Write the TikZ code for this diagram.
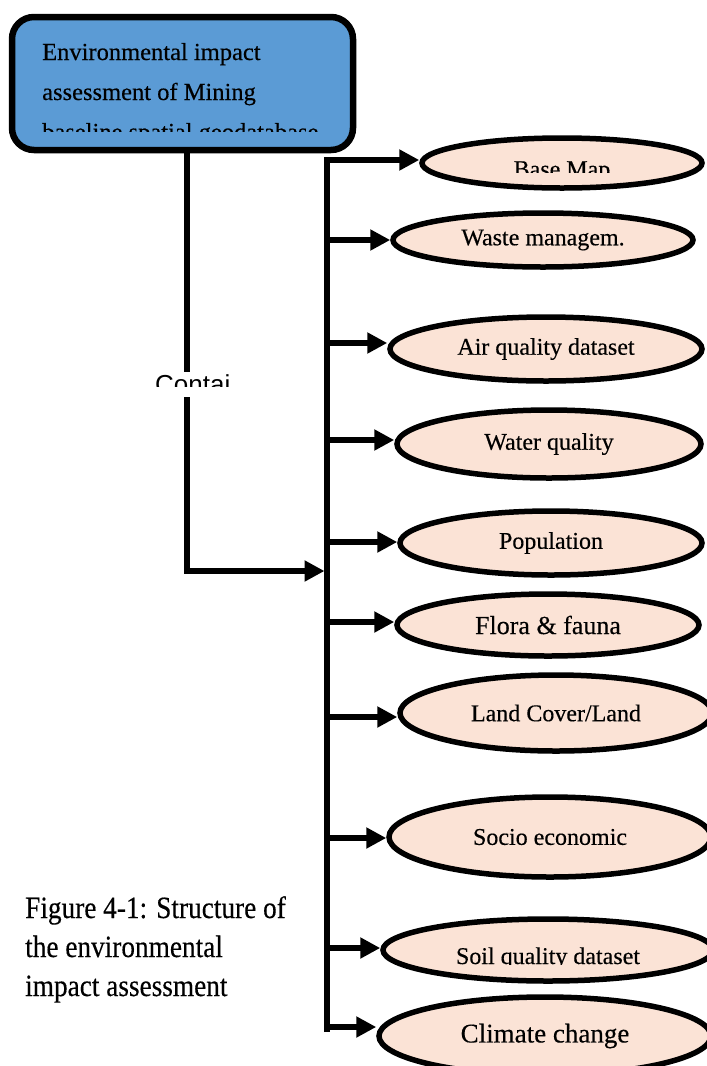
\documentclass[tikz,border=0pt]{standalone}
\usepackage{fontspec}
\setmainfont{Liberation Serif}[FakeBold=0.35]
\newfontfamily\capfont{Liberation Serif}[FakeStretch=0.88,FakeBold=0.3]
\newfontfamily\labelfont{Liberation Sans}
\usetikzlibrary{shapes.geometric,arrows.meta}
\definecolor{boxblue}{HTML}{5B9BD5}
\definecolor{peach}{HTML}{FBE3D6}
\tikzset{
  topbox/.style={draw=black, line width=6.5pt, fill=boxblue, rounded corners=22pt, inner sep=0pt},
  item/.style={ellipse, draw=black, line width=5.5pt, fill=peach, inner sep=0pt,
               font=\fontsize{24}{28}\selectfont},
  wire/.style={line width=5.5pt, line cap=butt},
  feed/.style={wire, -{Triangle[length=20pt,width=20pt]}},
  boxtext/.style={anchor=base west, inner sep=0pt, font=\fontsize{24.5}{28}\selectfont},
  captext/.style={anchor=base west, inner sep=0pt, font=\capfont\fontsize{31}{36}\selectfont},
}
\begin{document}
\begin{tikzpicture}[x=1pt, y=-1pt]
\useasboundingbox (0,0) rectangle (707,1066);

% title box with its (partly hidden) three-line title
\node[topbox, minimum width=341pt, minimum height=133pt] (top) at (182.5,83.5) {};
\begin{scope}
  \clip (15,20) rectangle (350,131.5);
  \node[boxtext] (t1) at (42,60) {Environmental impact};
  \node[boxtext] (t2) at (42,100) {assessment of Mining};
  \node[boxtext] (t3) at (42,140) {baseline spatial geodatabase};
\end{scope}

% the datasets
\node[item, minimum width=280pt, minimum height=50pt] (e1) at (562,163) {};
\node[item, minimum width=300pt, minimum height=54pt] (e2) at (543,240) {Waste managem.};
\node[item, minimum width=312pt, minimum height=64pt] (e3) at (546,349) {Air quality dataset};
\node[item, minimum width=304pt, minimum height=68pt] (e4) at (549,444) {Water quality};
\node[item, minimum width=302pt, minimum height=64pt] (e5) at (551,543) {Population};
\node[item, minimum width=302pt, minimum height=62pt] (e6) at (548,625) {\fontsize{26}{30}\selectfont Flora \& fauna};
\node[item, minimum width=312pt, minimum height=76pt] (e7) at (556,713) {Land Cover/Land};
\node[item, minimum width=322pt, minimum height=80pt] (e8) at (550,837) {Socio economic};
\node[item, minimum width=330pt, minimum height=62pt] (e9) at (548,950) {};
\node[item, minimum width=332pt, minimum height=78pt] (e10) at (545,1036) {\fontsize{27}{30}\selectfont Climate change};

% labels whose lower part is cut off
\begin{scope}
  \clip (430,140) rectangle (700,172);
  \node[anchor=base, inner sep=0pt, font=\fontsize{24}{28}\selectfont] (l1) at (e1.center |- 0,177) {Base Map};
\end{scope}
\begin{scope}
  \clip (390,925) rectangle (700,964);
  \node[anchor=base, inner sep=0pt, font=\fontsize{24}{28}\selectfont] (l9) at (e9.center |- 0,964) {Soil quality dataset};
\end{scope}

% bus line and the branches to each dataset
\coordinate (bustop) at (327,160);
\coordinate (busbot) at (327,1032);
\draw[wire] (busbot) -- (bustop);
\coordinate (b1) at (327,160);
\coordinate (b2) at (327,240);
\coordinate (b3) at (327,343);
\coordinate (b4) at (327,440);
\coordinate (b5) at (327,542);
\coordinate (b6) at (327,622);
\coordinate (b7) at (327,717);
\coordinate (b8) at (327,838);
\coordinate (b9) at (327,948);
\coordinate (b10) at (327,1027);
\foreach \i in {1,...,10}
  \draw[feed] ([xshift=-2.75pt]b\i) -- (b\i -| e\i.west);

% link from the title box to the bus, interrupted by its label
\coordinate (down) at (187,150);
\coordinate (gaptop) at (187,372);
\coordinate (gapbot) at (187,397);
\coordinate (corner) at (187,571);
\coordinate (busin) at (324.5,571);
\draw[wire] (top.south -| down) -- (gaptop);
\draw[feed] (gapbot) -- (corner) -- (busin);
\begin{scope}
  \clip (140,360) rectangle (260,386.5);
  \node[anchor=base west, inner sep=0pt, font=\labelfont\fontsize{26}{30}\selectfont] (contai) at (155,393) {Contai};
\end{scope}

% caption
\node[captext] (c1) at (25,918) {Figure 4-1: Structure of};
\node[captext] (c2) at (25,957) {the environmental};
\node[captext] (c3) at (25,996) {impact assessment};
\end{tikzpicture}
\end{document}
